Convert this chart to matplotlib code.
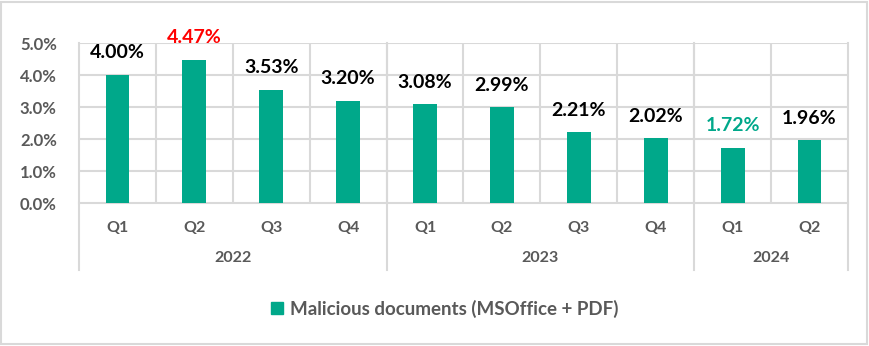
import numpy as np
import matplotlib as mpl
mpl.use('Agg')
from matplotlib import pyplot as plt
from matplotlib.patches import Rectangle
from matplotlib.transforms import blended_transform_factory
from matplotlib.ticker import FuncFormatter

quarters = ['Q1', 'Q2', 'Q3', 'Q4', 'Q1', 'Q2', 'Q3', 'Q4', 'Q1', 'Q2']
years = ['2022', '2023', '2024']
year_sizes = [4, 4, 2]
share = [4.00, 4.47, 3.53, 3.20, 3.08, 2.99, 2.21, 2.02, 1.72, 1.96]
label_colors = ['black', '#FF0000', 'black', 'black', 'black',
                'black', 'black', 'black', '#00A88A', 'black']
series_name = 'Malicious documents (MSOffice + PDF)'

plt.rcParams['font.family'] = ['Lato', 'DejaVu Sans']
bar_color = '#00A88A'
text_gray = '#595959'
grid_gray = '#D9D9D9'

fig = plt.figure(figsize=(8.7, 3.46), dpi=100)
W, H = 870, 346
ax = fig.add_axes([79 / W, 1 - 203 / H, (848 - 79) / W, (203 - 43) / H])

x = np.arange(len(share))
ax.bar(x, share, width=0.31, color=bar_color, zorder=3)
for xi, v, c in zip(x, share, label_colors):
    ax.annotate('{:.2f}%'.format(v), (xi, v), xytext=(0, 16),
                textcoords='offset points', ha='center', va='center',
                fontsize=14, fontweight='bold', color=c)

ax.set_xlim(-0.5, len(share) - 0.5)
ax.set_ylim(0, 5)
ax.set_yticks(np.arange(0, 5.01, 1))
ax.yaxis.set_major_formatter(FuncFormatter(lambda v, p: '{:.1f}%'.format(v)))
ax.tick_params(axis='y', length=0, pad=16, labelsize=12, labelcolor=text_gray)
for lbl in ax.get_yticklabels():
    lbl.set_fontweight('bold')
ax.set_xticks([])

# gridlines: horizontal at ticks, vertical between categories
for yv in np.arange(1, 5.01, 1):
    ax.axhline(yv, color=grid_gray, lw=1.5, zorder=1)
for xv in np.arange(0.5, len(share) - 1, 1):
    ax.axvline(xv, color=grid_gray, lw=1.5, zorder=1)
for s in ['top', 'right', 'left']:
    ax.spines[s].set_visible(False)
ax.spines['bottom'].set_color(grid_gray)
ax.spines['bottom'].set_linewidth(1.5)

# two-level category axis
tr = blended_transform_factory(ax.transData, fig.transFigure)
for xi, q in zip(x, quarters):
    ax.text(xi, 1 - 228 / H, q, transform=tr, ha='center', va='center',
            fontsize=11.5, fontweight='bold', color=text_gray)
start = 0
bounds = [-0.5]
for yr, n in zip(years, year_sizes):
    ax.text(start + (n - 1) / 2, 1 - 258 / H, yr, transform=tr, ha='center',
            va='center', fontsize=11.5, fontweight='bold', color=text_gray)
    start += n
    bounds.append(start - 0.5)
for b in bounds:
    ax.plot([b, b], [1 - 43 / H, 1 - 270 / H], transform=tr, color=grid_gray,
            lw=1.5, clip_on=False, zorder=1)

# legend
handle = Rectangle((0, 0), 1, 1, color=bar_color)
leg = fig.legend([handle], [series_name], loc='center',
                 bbox_to_anchor=(445 / W, 1 - 309 / H), frameon=False,
                 handlelength=0.6, handleheight=0.6, handletextpad=0.4,
                 prop={'size': 13.5, 'weight': 'bold'})
for t in leg.get_texts():
    t.set_color(text_gray)

# chart border
fig.patches.append(Rectangle((1 / W, 2 / H), 866 / W, 342 / H,
                             transform=fig.transFigure, fill=False,
                             edgecolor=grid_gray, lw=1.5))

fig.savefig('out.png', dpi=100)
